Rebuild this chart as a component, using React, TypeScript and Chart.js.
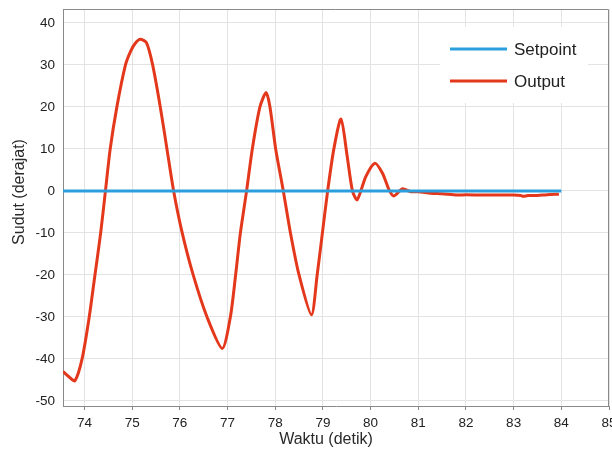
import { useEffect, useRef } from 'react';
import { Chart, registerables } from 'chart.js';

Chart.register(...registerables);

// Response of the angle controller: time (s) and measured angle (deg)
const timeSec = [
  73.55, 73.68, 73.8, 73.95, 74.1, 74.22, 74.34, 74.44, 74.54, 74.68, 74.86, 74.97, 75.07,
  75.17, 75.3, 75.43, 75.59, 75.73, 75.87, 76.05, 76.28, 76.57, 76.89, 77.06, 77.17, 77.27,
  77.4, 77.52, 77.68, 77.81, 77.89, 78.01, 78.17, 78.32, 78.5, 78.76, 78.88, 78.99, 79.1,
  79.23, 79.38, 79.51, 79.62, 79.72, 79.9, 80.09, 80.25, 80.39, 80.49, 80.67, 80.84, 81.0,
  81.26, 81.5, 81.82, 82.0, 82.5, 83.0, 83.15, 83.2, 83.3, 83.5, 83.7, 83.95,
];
const outputDeg = [
  -43.0, -44.3, -45.2, -40, -30, -20, -10, 0, 10, 20, 30, 33.3, 35.2,
  36.1, 35.3, 30, 20, 10, 0, -10, -20, -30, -37.5, -30, -20, -10,
  0, 10, 20, 23.4, 20, 10, 0, -10, -20, -29.5, -20, -10, 0,
  10, 17.1, 8.2, 0, -2.1, 3.4, 6.6, 4.2, 0.2, -1.2, 0.5, -0.2, -0.2,
  -0.55, -0.7, -1.0, -0.9, -1.0, -1.0, -1.1, -1.3, -1.1, -1.1, -0.9, -0.8,
];

// Reference angle
const setpointTime = [73.55, 84.0];
const setpointDeg = [0, 0];

const xTicks = [74, 75, 76, 77, 78, 79, 80, 81, 82, 83, 84, 85];
const yTicks = [-50, -40, -30, -20, -10, 0, 10, 20, 30, 40];

const seriesNames = ['Setpoint', 'Output'];
const seriesColors = ['#2b9fdc', '#e4381c'];
const xTitle = 'Waktu (detik)';
const yTitle = 'Sudut (derajat)';

const FONT = '"Liberation Sans", Arial, Helvetica, sans-serif';

const decorPlugin = {
  id: 'decor',
  afterDraw(chart: any) {
    const { ctx, chartArea } = chart;
    ctx.save();
    // frame around the plotting area
    ctx.strokeStyle = '#8a8a8a';
    ctx.lineWidth = 1;
    ctx.beginPath();
    ctx.moveTo(chartArea.left, chartArea.top + 0.5);
    ctx.lineTo(chartArea.right - 0.5, chartArea.top + 0.5);
    ctx.lineTo(chartArea.right - 0.5, chartArea.bottom);
    ctx.stroke();

    // legend box
    ctx.fillStyle = '#ffffff';
    ctx.fillRect(440, 27, 148, 76);
    const rows = [49, 81];
    seriesNames.forEach((name, i) => {
      const y = rows[i];
      ctx.strokeStyle = seriesColors[i];
      ctx.lineWidth = 3;
      ctx.beginPath();
      ctx.moveTo(450, y);
      ctx.lineTo(507, y);
      ctx.stroke();
      ctx.fillStyle = '#222222';
      ctx.font = `17px ${FONT}`;
      ctx.textAlign = 'left';
      ctx.textBaseline = 'middle';
      ctx.fillText(name, 514, y + 1);
    });

    // axis titles
    ctx.fillStyle = '#2a2a2a';
    ctx.font = `16px ${FONT}`;
    ctx.textAlign = 'center';
    ctx.textBaseline = 'middle';
    ctx.fillText(xTitle, 326, 440);
    ctx.translate(20, 192);
    ctx.rotate(-Math.PI / 2);
    ctx.fillText(yTitle, 0, 0);
    ctx.restore();
  },
};

export default function App() {
  const canvasRef = useRef<HTMLCanvasElement | null>(null);

  useEffect(() => {
    const canvas = canvasRef.current;
    if (!canvas) return;
    const chart = new Chart(canvas, {
      type: 'line',
      data: {
        datasets: [
          {
            label: seriesNames[0],
            data: setpointTime.map((t, i) => ({ x: t, y: setpointDeg[i] })),
            borderColor: seriesColors[0],
            borderWidth: 3,
            pointRadius: 0,
          },
          {
            label: seriesNames[1],
            data: timeSec.map((t, i) => ({ x: t, y: outputDeg[i] })),
            borderColor: seriesColors[1],
            borderWidth: 3,
            pointRadius: 0,
            tension: 0.25,
          },
        ],
      },
      options: {
        animation: false,
        responsive: false,
        devicePixelRatio: 1,
        layout: { padding: { left: 0, top: 9, right: 3, bottom: 0 }, autoPadding: false },
        plugins: {
          legend: { display: false },
          tooltip: { enabled: false },
        },
        scales: {
          x: {
            type: 'linear',
            min: 73.55,
            max: 85,
            afterBuildTicks: (scale: any) => {
              scale.ticks = xTicks.map((v) => ({ value: v }));
            },
            afterFit: (scale: any) => {
              scale.height = 48;
              scale.paddingLeft = 0;
              scale.paddingRight = 0;
            },
            grid: { color: '#e3e3e3', tickLength: 4, tickColor: '#8a8a8a' },
            border: { color: '#8a8a8a', width: 1 },
            ticks: {
              color: '#222222',
              font: { family: FONT, size: 13.5 },
              padding: 5,
              maxRotation: 0,
              autoSkip: false,
              callback: (v: any) => String(v),
            },
          },
          y: {
            type: 'linear',
            min: -51.2,
            max: 43.3,
            afterBuildTicks: (scale: any) => {
              scale.ticks = yTicks.map((v) => ({ value: v }));
            },
            afterFit: (scale: any) => {
              scale.width = 63;
              scale.paddingTop = 0;
              scale.paddingBottom = 0;
            },
            grid: { color: '#e3e3e3', drawTicks: false },
            border: { color: '#8a8a8a', width: 1 },
            ticks: {
              color: '#222222',
              font: { family: FONT, size: 13.5 },
              padding: 8,
              autoSkip: false,
              callback: (v: any) => String(v),
            },
          },
        },
      },
      plugins: [decorPlugin],
    } as any);
    return () => chart.destroy();
  }, []);

  return (
    <div style={{ position: 'absolute', left: 0, top: 0, width: 612, height: 454, background: '#ffffff' }}>
      <canvas ref={canvasRef} width={612} height={454} style={{ width: 612, height: 454 }} />
    </div>
  );
}
